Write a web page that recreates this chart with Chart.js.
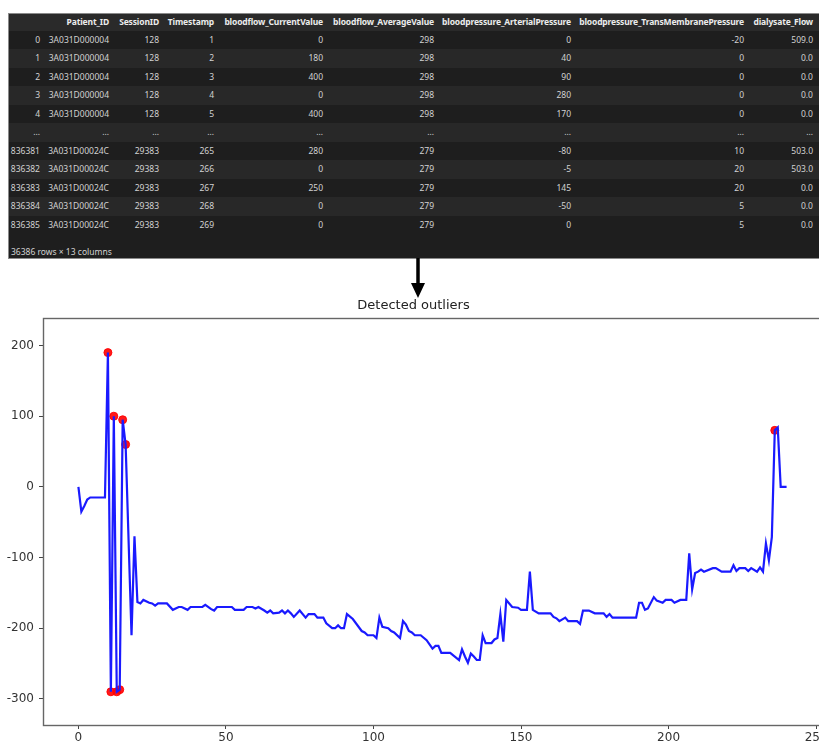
<!DOCTYPE html>
<html>
<head>
<meta charset="utf-8">
<script src="https://cdn.jsdelivr.net/npm/chart.js@4.4.1/dist/chart.umd.min.js"></script>
<style>
  body { margin: 0; background: #fff; width: 819px; height: 743px; overflow: hidden; position: relative; }
  #tbl { position: absolute; left: 8px; top: 13px; width: 830px; height: 244px; background: #1e1e1e;
         border-top: 1px solid #8a8a8a; border-left: 1px solid #8a8a8a; border-bottom: 1px solid #8a8a8a;
         font-family: "Noto Sans", sans-serif; font-size: 8.5px; color: #d2d2d2; overflow: hidden; }
  .row { position: absolute; left: 0; width: 830px; }
  .cell { position: absolute; top: 0; left: 0; text-align: right; white-space: nowrap; }
  .hdr { font-weight: bold; color: #ececec; letter-spacing: -0.15px; }
  #foot { position: absolute; left: 2px; top: 232px; }
  #arrow { position: absolute; left: 405px; top: 256px; }
  #wrap { position: absolute; left: 0; top: 290px; width: 819px; height: 453px; overflow: hidden; }
</style>
</head>
<body>
<div id="tbl"></div>
<svg id="arrow" width="26" height="44">
  <line x1="13" y1="2" x2="13" y2="30" stroke="#000" stroke-width="3.5"/>
  <polygon points="6,27 20,27 13,42" fill="#000"/>
</svg>
<div id="wrap"><canvas id="chart" width="827" height="453"></canvas></div>
<script>
// dataframe preview
columns = ["", "Patient_ID", "SessionID", "Timestamp", "bloodflow_CurrentValue", "bloodflow_AverageValue",
           "bloodpressure_ArterialPressure", "bloodpressure_TransMembranePressure", "dialysate_Flow"];
rows = [
  ["0", "3A031D000004", "128", "1", "0", "298", "0", "-20", "509.0"],
  ["1", "3A031D000004", "128", "2", "180", "298", "40", "0", "0.0"],
  ["2", "3A031D000004", "128", "3", "400", "298", "90", "0", "0.0"],
  ["3", "3A031D000004", "128", "4", "0", "298", "280", "0", "0.0"],
  ["4", "3A031D000004", "128", "5", "400", "298", "170", "0", "0.0"],
  ["...", "...", "...", "...", "...", "...", "...", "...", "..."],
  ["836381", "3A031D00024C", "29383", "265", "280", "279", "-80", "10", "503.0"],
  ["836382", "3A031D00024C", "29383", "266", "0", "279", "-5", "20", "503.0"],
  ["836383", "3A031D00024C", "29383", "267", "250", "279", "145", "20", "0.0"],
  ["836384", "3A031D00024C", "29383", "268", "0", "279", "-50", "5", "0.0"],
  ["836385", "3A031D00024C", "29383", "269", "0", "279", "0", "5", "0.0"]
];
footer = "36386 rows \u00d7 13 columns";

// detected outliers line (vertices)
lineX = [0, 1, 2, 3, 4, 9, 10, 11, 12, 13,
         14, 15, 16, 18, 19, 20, 21, 22, 24, 25,
         26, 27, 30, 32, 34, 35, 37, 38, 42, 43,
         45, 46, 47, 52, 53, 56, 57, 59, 60, 61,
         63, 64, 65, 66, 68, 69, 70, 71, 72, 73,
         75, 77, 78, 80, 81, 83, 84, 86, 87, 88,
         89, 90, 91, 93, 96, 97, 98, 100, 101, 102,
         103, 105, 106, 107, 109, 110, 111, 112, 113, 114,
         116, 118, 120, 121, 122, 123, 126, 129, 130, 131,
         132, 133, 134, 135, 136, 137, 138, 140, 141, 142,
         143, 144, 145, 147, 149, 150, 152, 153, 154, 156,
         160, 161, 162, 163, 165, 166, 169, 170, 171, 173,
         175, 178, 179, 180, 181, 189, 190, 191, 192, 193,
         195, 196, 198, 199, 201, 202, 204, 206, 207, 208,
         209, 210, 211, 212, 215, 216, 218, 221, 222, 223,
         224, 226, 227, 228, 230, 231, 232, 233, 234, 235,
         236, 237, 238, 240];
lineY = [0, -35, -27, -18, -15, -15, 190, -290, 100, -290,
         -287, 95, 60, -210, -70, -163, -165, -160, -164, -165,
         -168, -165, -165, -174, -170, -170, -174, -170, -170, -167,
         -173, -175, -170, -170, -174, -174, -170, -170, -172, -170,
         -175, -178, -175, -179, -178, -175, -179, -175, -179, -184,
         -175, -185, -180, -180, -185, -185, -193, -200, -200, -196,
         -200, -200, -180, -187, -204, -206, -210, -210, -214, -185,
         -198, -200, -204, -206, -214, -190, -195, -204, -206, -210,
         -210, -217, -229, -225, -225, -235, -235, -245, -230, -240,
         -249, -236, -240, -245, -245, -210, -221, -221, -216, -214,
         -180, -219, -160, -170, -171, -174, -174, -120, -174, -179,
         -179, -184, -186, -190, -185, -190, -190, -194, -175, -175,
         -179, -179, -184, -180, -185, -185, -164, -164, -174, -172,
         -156, -161, -164, -160, -160, -164, -160, -160, -94, -145,
         -122, -120, -117, -120, -115, -115, -120, -120, -111, -119,
         -115, -115, -119, -115, -120, -114, -120, -80, -104, -71,
         80, 84, 0, 0];

outlierX = [10, 11, 12, 13, 14, 15, 16, 236];
outlierY = [190, -290, 100, -290, -287, 95, 60, 80];

xTicks = [0, 50, 100, 150, 200, 250];
yTicks = [-300, -200, -100, 0, 100, 200];

// ---- table ----
colRight = [31, 100, 150, 205, 314, 425, 562, 735, 804]; // text right edges inside the box
tbl = document.getElementById("tbl");
function addRow(cells, top, h, bg, cls) {
  var r = document.createElement("div");
  r.className = "row";
  r.style.top = top + "px";
  r.style.height = h + "px";
  r.style.lineHeight = h + "px";
  if (bg) r.style.background = bg;
  cells.forEach((t, i) => {
    var c = document.createElement("div");
    c.className = "cell" + (cls ? " " + cls : "");
    c.style.width = colRight[i] + "px";
    c.style.height = h + "px";
    c.textContent = t;
    r.appendChild(c);
  });
  tbl.appendChild(r);
}
addRow(columns, 0, 16.5, "#2a2a2a", "hdr");
rows.forEach((r, i) => addRow(r, 16.5 + i * 18.5, 18.5, i % 2 ? "#282828" : "#1e1e1e"));
var f = document.createElement("div");
f.id = "foot";
f.textContent = footer;
tbl.appendChild(f);

// ---- chart ----
frame = {
  id: "frame",
  afterDraw(chart) {
    var a = chart.chartArea, c = chart.ctx;
    c.save();
    c.strokeStyle = "#666";
    c.lineWidth = 1.4;
    c.strokeRect(a.left + 0.5, a.top + 0.5, a.right - a.left, a.bottom - a.top);
    c.restore();
  }
};

tickFont = { family: "DejaVu Sans", size: 12 };

new Chart(document.getElementById("chart"), {
  type: "scatter",
  data: {
    datasets: [
      {
        type: "line",
        data: lineX.map((x, i) => ({ x: x, y: lineY[i] })),
        borderColor: "#1a1aff",
        borderWidth: 2.2,
        pointRadius: 0,
        tension: 0,
        fill: false
      },
      {
        type: "scatter",
        data: outlierX.map((x, i) => ({ x: x, y: outlierY[i] })),
        backgroundColor: "rgba(255,0,0,0.9)",
        borderColor: "rgba(255,0,0,0.9)",
        borderWidth: 1,
        pointRadius: 4
      }
    ]
  },
  options: {
    responsive: false,
    animation: false,
    layout: { padding: 0 },
    plugins: {
      legend: { display: false },
      tooltip: { enabled: false },
      title: {
        display: true,
        text: "Detected outliers",
        color: "#222",
        font: { family: "DejaVu Sans", size: 13, weight: "normal" },
        padding: { top: 8, bottom: 4.4 }
      }
    },
    scales: {
      x: {
        type: "linear",
        min: -12,
        max: 252,
        border: { display: false },
        grid: { drawOnChartArea: false, drawTicks: true, tickLength: 4, color: "#444" },
        ticks: { color: "#333", font: tickFont, padding: 2, maxRotation: 0 },
        afterBuildTicks: s => { s.ticks = xTicks.map(v => ({ value: v })); },
        afterFit: s => { s.height = 18; s.paddingLeft = 0; s.paddingRight = 0; }
      },
      y: {
        min: -337,
        max: 239,
        border: { display: false },
        grid: { drawOnChartArea: false, drawTicks: true, tickLength: 4, color: "#444" },
        ticks: { color: "#333", font: tickFont, padding: 5 },
        afterBuildTicks: s => { s.ticks = yTicks.map(v => ({ value: v })); },
        afterFit: s => { s.width = 43; s.paddingTop = 0; s.paddingBottom = 0; }
      }
    }
  },
  plugins: [frame]
});
</script>
</body>
</html>
